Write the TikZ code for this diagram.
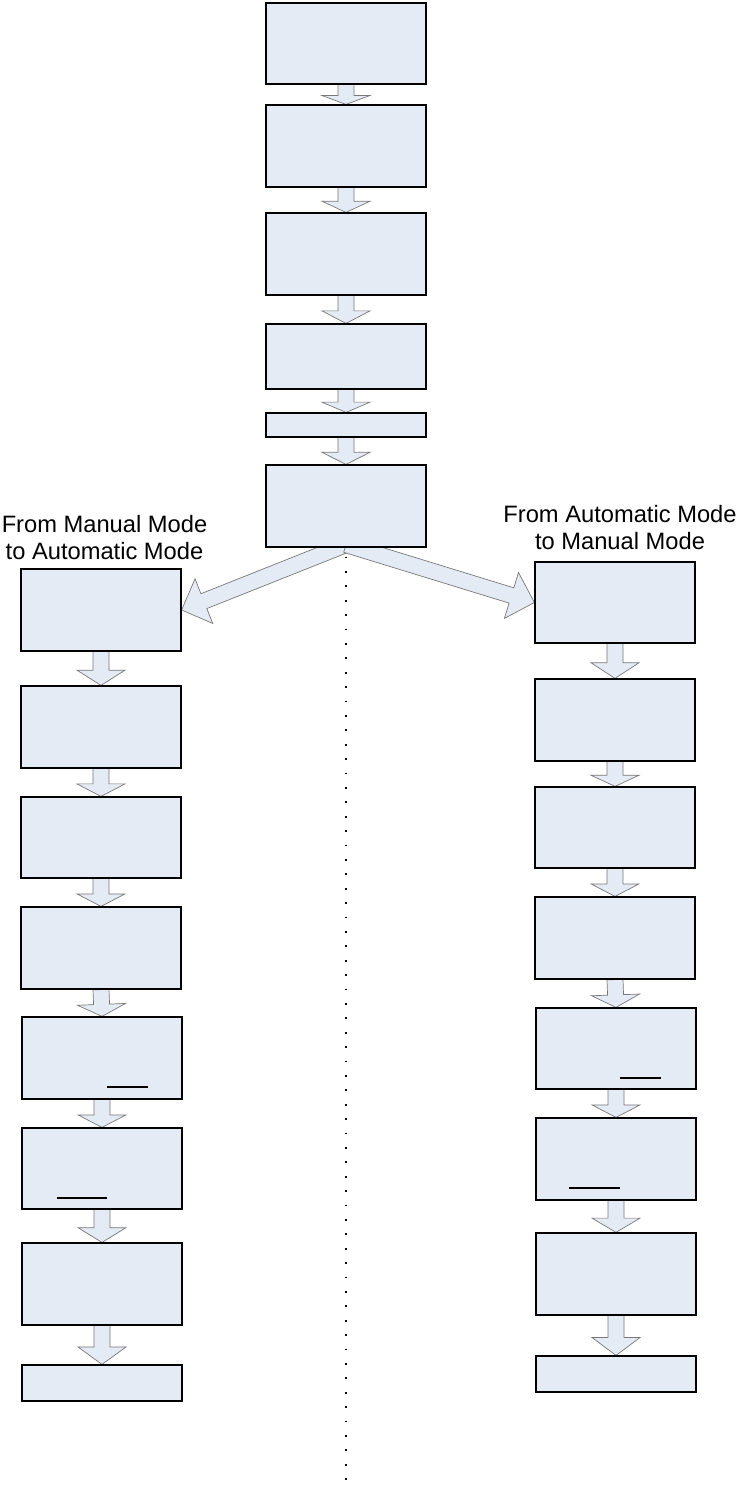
\documentclass[tikz,border=0pt]{standalone}
\usepackage{fontspec}
\setmainfont{Liberation Sans}
\usetikzlibrary{calc,backgrounds}

\definecolor{boxfill}{RGB}{229,235,245}
\definecolor{flowline}{RGB}{120,120,120}

% block arrow from #1 to #2, head length #3
\newcommand{\flowarrow}[3]{%
  \coordinate (hb) at ($(#2)!#3!(#1)$);
  \draw[flow] ($(#1)!8pt!90:(#2)$) -- ($(hb)!8pt!90:(#2)$) -- ($(hb)!24pt!90:(#2)$) -- (#2)
    -- ($(hb)!24pt!-90:(#2)$) -- ($(hb)!8pt!-90:(#2)$) -- ($(#1)!8pt!-90:(#2)$) -- cycle;}

\begin{document}
\begin{tikzpicture}[x=1pt,y=-1pt,
  blk/.style={draw=black,line width=1.2pt,fill=boxfill,minimum width=160pt,inner sep=0pt},
  flow/.style={draw=flowline,line width=0.7pt,fill=boxfill,line join=miter},
  lbl/.style={align=center,inner sep=0pt,font=\fontsize{23.7pt}{27pt}\selectfont}]

  \useasboundingbox (0,0) rectangle (738,1488);

  % middle column
  \node[blk,minimum height=81pt] (c1) at (346,43.5) {};
  \node[blk,minimum height=82pt] (c2) at (346,146) {};
  \node[blk,minimum height=82pt] (c3) at (346,254) {};
  \node[blk,minimum height=65pt] (c4) at (346,356.5) {};
  \node[blk,minimum height=24pt] (c5) at (346,425) {};
  \node[blk,minimum height=82pt] (c6) at (346,506) {};

  % left column
  \node[lbl,anchor=north] (lefttitle) at (104.5,515) {From Manual Mode\\to Automatic Mode};
  \node[blk,minimum height=82pt] (l1) at (101,610) {};
  \node[blk,minimum height=82pt] (l2) at (101,727) {};
  \node[blk,minimum height=81pt] (l3) at (101,837.5) {};
  \node[blk,minimum height=82pt] (l4) at (101,948) {};
  \node[blk,minimum height=82pt] (l5) at (102,1058) {};
  \node[blk,minimum height=81pt] (l6) at (102,1168.5) {};
  \node[blk,minimum height=82pt] (l7) at (102,1284) {};
  \node[blk,minimum height=36pt] (l8) at (102,1383) {};

  % right column
  \node[lbl,anchor=north] (righttitle) at (620,505) {From Automatic Mode\\to Manual Mode};
  \node[blk,minimum height=81pt] (r1) at (615,602.5) {};
  \node[blk,minimum height=82pt] (r2) at (615,720) {};
  \node[blk,minimum height=81pt] (r3) at (615,827.5) {};
  \node[blk,minimum height=82pt] (r4) at (615,938) {};
  \node[blk,minimum height=81pt] (r5) at (616,1048.5) {};
  \node[blk,minimum height=82pt] (r6) at (616,1159) {};
  \node[blk,minimum height=82pt] (r7) at (616,1274) {};
  \node[blk,minimum height=36pt] (r8) at (616,1374) {};

  % underlines
  \draw[line width=1.2pt] (107,1087) -- (148,1087);
  \draw[line width=1.2pt] (57,1198) -- (107,1198);
  \draw[line width=1.2pt] (620,1078) -- (661,1078);
  \draw[line width=1.2pt] (569,1188) -- (620,1188);

  % arrows
  \begin{scope}[on background layer]
    \foreach \a/\b in {c1/c2,c2/c3,c3/c4,c4/c5,c5/c6,
                       l1/l2,l2/l3,l3/l4,l4/l5,l5/l6,l6/l7,l7/l8,
                       r1/r2,r2/r3,r3/r4,r4/r5,r5/r6,r6/r7,r7/r8}
      \flowarrow{\a.south}{\b.north}{0.45};
    \coordinate (split) at ($(c6.south)+(0,-3)$);
    \flowarrow{split}{l1.east}{24pt}
    \flowarrow{split}{r1.west}{24pt}
  \end{scope}

  % dotted divider
  \coordinate (dtop) at ($(c6.south)+(0,9)$);
  \coordinate (dend) at (346,1480);
  \draw[line width=1.8pt,dash pattern=on 1.8pt off 12.6pt] (dtop) -- (dend);
\end{tikzpicture}
\end{document}
